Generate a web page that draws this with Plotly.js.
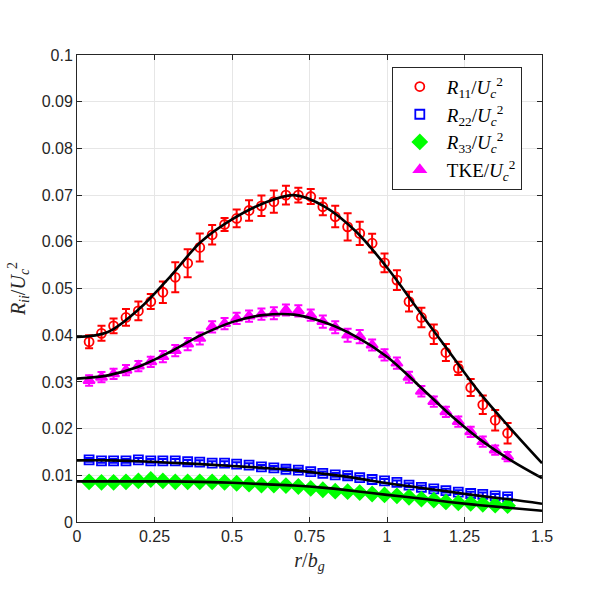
<!DOCTYPE html>
<html>
<head>
<meta charset="utf-8">
<script src="https://cdn.plot.ly/plotly-3.0.1.min.js"></script>
<style>
  html, body { margin: 0; padding: 0; background: #fff; }
  #chart { width: 600px; height: 600px; }
</style>
</head>
<body>
<div id="chart"></div>
<script>
// Radial positions r/b_g of the measurement stations
const rPts = [0.039, 0.079, 0.118, 0.158, 0.198, 0.238, 0.277, 0.317, 0.357, 0.396,
              0.436, 0.476, 0.515, 0.555, 0.595, 0.635, 0.674, 0.714, 0.754, 0.793,
              0.833, 0.873, 0.912, 0.952, 0.992, 1.032, 1.071, 1.111, 1.151, 1.190,
              1.230, 1.270, 1.309, 1.349, 1.389];

// Normalised Reynolds stresses and turbulent kinetic energy
const R11 = [0.0386, 0.0404, 0.0420, 0.0438, 0.0452, 0.0472, 0.0492, 0.0524, 0.0554, 0.0588,
             0.0615, 0.0637, 0.0650, 0.0667, 0.0677, 0.0686, 0.0700, 0.0700, 0.0697, 0.0675,
             0.0654, 0.0632, 0.0618, 0.0597, 0.0555, 0.0518, 0.0472, 0.0438, 0.0402, 0.0363,
             0.0329, 0.0288, 0.0251, 0.0218, 0.0190];
const R11err = [0.0014, 0.0016, 0.0016, 0.0018, 0.0020, 0.0016, 0.0023, 0.0032, 0.0030, 0.0030,
                0.0021, 0.0014, 0.0019, 0.0022, 0.0022, 0.0024, 0.0020, 0.0016, 0.0016, 0.0018,
                0.0023, 0.0029, 0.0025, 0.0020, 0.0020, 0.0021, 0.0021, 0.0021, 0.0021, 0.0018,
                0.0014, 0.0018, 0.0020, 0.0022, 0.0022];

const R22 = [0.0133, 0.0131, 0.0131, 0.0131, 0.0133, 0.0131, 0.0131, 0.0131, 0.0129, 0.0128,
             0.0126, 0.0126, 0.0124, 0.0122, 0.0118, 0.0116, 0.0113, 0.0111, 0.0108, 0.0104,
             0.0101, 0.0099, 0.0095, 0.0091, 0.0088, 0.0085, 0.0079, 0.0074, 0.0071, 0.0067,
             0.0064, 0.0061, 0.0059, 0.0056, 0.0054];
const R22err = [0.0004, 0.0004, 0.0004, 0.0004, 0.0004, 0.0004, 0.0004, 0.0004, 0.0004, 0.0004,
                0.0004, 0.0004, 0.0004, 0.0004, 0.0004, 0.0004, 0.0004, 0.0004, 0.0004, 0.0004,
                0.0004, 0.0004, 0.0004, 0.0004, 0.0004, 0.0004, 0.0004, 0.0004, 0.0004, 0.0004,
                0.0004, 0.0004, 0.0004, 0.0004, 0.0004];

const R33 = [0.0086, 0.0085, 0.0085, 0.0086, 0.0088, 0.0091, 0.0088, 0.0086, 0.0086, 0.0086,
             0.0086, 0.0085, 0.0083, 0.0081, 0.0079, 0.0079, 0.0078, 0.0076, 0.0072, 0.0069,
             0.0066, 0.0065, 0.0063, 0.0060, 0.0058, 0.0056, 0.0053, 0.0049, 0.0047, 0.0043,
             0.0041, 0.0040, 0.0038, 0.0036, 0.0035];
const R33err = [0.0004, 0.0004, 0.0004, 0.0004, 0.0004, 0.0004, 0.0004, 0.0004, 0.0004, 0.0004,
                0.0004, 0.0004, 0.0004, 0.0004, 0.0004, 0.0004, 0.0004, 0.0004, 0.0004, 0.0004,
                0.0004, 0.0004, 0.0004, 0.0004, 0.0004, 0.0004, 0.0004, 0.0004, 0.0004, 0.0004,
                0.0004, 0.0004, 0.0004, 0.0004, 0.0004];

const TKE = [0.0303, 0.0310, 0.0317, 0.0325, 0.0334, 0.0343, 0.0354, 0.0367, 0.0381, 0.0393,
             0.0418, 0.0425, 0.0436, 0.0441, 0.0445, 0.0447, 0.0454, 0.0452, 0.0443, 0.0429,
             0.0417, 0.0400, 0.0397, 0.0379, 0.0358, 0.0340, 0.0310, 0.0280, 0.0258, 0.0236,
             0.0215, 0.0193, 0.0172, 0.0154, 0.0140];
const TKEerr = [0.0011, 0.0011, 0.0011, 0.0011, 0.0011, 0.0011, 0.0012, 0.0012, 0.0013, 0.0013,
                0.0012, 0.0012, 0.0012, 0.0012, 0.0012, 0.0013, 0.0012, 0.0012, 0.0012, 0.0013,
                0.0013, 0.0014, 0.0014, 0.0012, 0.0012, 0.0012, 0.0012, 0.0011, 0.0011, 0.0011,
                0.0011, 0.0011, 0.0011, 0.0010, 0.0010];

// Fitted profiles (black curves)
const rFit = [0, 0.1, 0.2, 0.3, 0.4, 0.5, 0.6, 0.7, 0.8, 0.9, 1.0, 1.1, 1.2, 1.3, 1.4, 1.5];
const R11fit = [0.0396, 0.0407, 0.0456, 0.0525, 0.0600, 0.0648, 0.0682, 0.0700, 0.0675, 0.0622,
                0.0545, 0.0455, 0.0365, 0.0276, 0.0199, 0.0126];
const R22fit = [0.0132, 0.0132, 0.0130, 0.0127, 0.0124, 0.0120, 0.0116, 0.0111, 0.0103, 0.0094,
                0.0083, 0.0074, 0.0065, 0.0056, 0.0048, 0.0039];
const R33fit = [0.0087, 0.0087, 0.0087, 0.0087, 0.0086, 0.0084, 0.0081, 0.0078, 0.0073, 0.0066,
                0.0058, 0.0051, 0.0043, 0.0036, 0.0030, 0.0024];
const TKEfit = [0.0307, 0.0314, 0.0333, 0.0364, 0.0400, 0.0428, 0.0443, 0.0444, 0.0427, 0.0397,
                0.0354, 0.0294, 0.0232, 0.0177, 0.0132, 0.0094];

const xTicks = [0, 0.25, 0.5, 0.75, 1, 1.25, 1.5];
const xTickText = ['0', '0.25', '0.5', '0.75', '1', '1.25', '1.5'];

const serif = 'Liberation Serif, DejaVu Serif, serif';

function measured(y, err, name, color, symbol, size) {
  return {
    x: rPts, y: y, type: 'scatter', mode: 'markers', name: name,
    marker: { symbol: symbol, size: size, color: color, line: { color: color, width: 1.8 } },
    error_y: { type: 'data', array: err, visible: true, color: color, thickness: 2, width: 4 }
  };
}
function fitted(y) {
  return {
    x: rFit, y: y, type: 'scatter', mode: 'lines', showlegend: false, hoverinfo: 'skip',
    line: { color: '#000', width: 2.6, shape: 'spline', smoothing: 1 }
  };
}

const traces = [
  measured(R11, R11err, '<i>R</i><sub>11</sub>/<i>U</i><sub><i>c</i></sub><sup>2</sup>', '#ff0000', 'circle-open', 9),
  measured(R22, R22err, '<i>R</i><sub>22</sub>/<i>U</i><sub><i>c</i></sub><sup>2</sup>', '#0000ff', 'square-open', 9),
  measured(R33, R33err, '<i>R</i><sub>33</sub>/<i>U</i><sub><i>c</i></sub><sup>2</sup>', '#00ff00', 'diamond', 11),
  measured(TKE, TKEerr, 'TKE/<i>U</i><sub><i>c</i></sub><sup>2</sup>', '#ff00ff', 'triangle-up', 10),
  fitted(R11fit), fitted(R22fit), fitted(R33fit), fitted(TKEfit)
];

const axisCommon = {
  showline: true, linecolor: '#262626', linewidth: 1, mirror: 'ticks',
  ticks: 'inside', ticklen: 5, tickcolor: '#262626',
  showgrid: true, gridcolor: '#e6e6e6', gridwidth: 1,
  zeroline: false,
  tickfont: { family: 'Liberation Sans, Arial, sans-serif', size: 16, color: '#262626' }
};

const layout = {
  width: 600, height: 600,
  margin: { l: 77, r: 58, t: 55, b: 78 },
  paper_bgcolor: '#fff', plot_bgcolor: '#fff',
  showlegend: true,
  xaxis: Object.assign({}, axisCommon, {
    range: [0, 1.5], tickvals: xTicks, ticktext: xTickText,
    title: { text: '<i>r</i>/<i>b</i><sub><i>g</i></sub>', font: { family: serif, size: 20, color: '#262626' }, standoff: 8 }
  }),
  yaxis: Object.assign({}, axisCommon, {
    range: [0, 0.1], dtick: 0.01, tick0: 0,
    title: { text: '<i>R</i><sub><i>ii</i></sub>/<i>U</i><sub><i>c</i></sub><sup>2</sup>', font: { family: serif, size: 20, color: '#262626' }, standoff: 10 }
  }),
  legend: {
    x: 0.677, y: 0.975, xanchor: 'left', yanchor: 'top',
    bgcolor: '#fff', bordercolor: '#262626', borderwidth: 1,
    font: { family: serif, size: 19, color: '#000' },
    tracegroupgap: 0, itemwidth: 44
  }
};

Plotly.newPlot('chart', traces, layout, { displayModeBar: false, staticPlot: true });
</script>
</body>
</html>
